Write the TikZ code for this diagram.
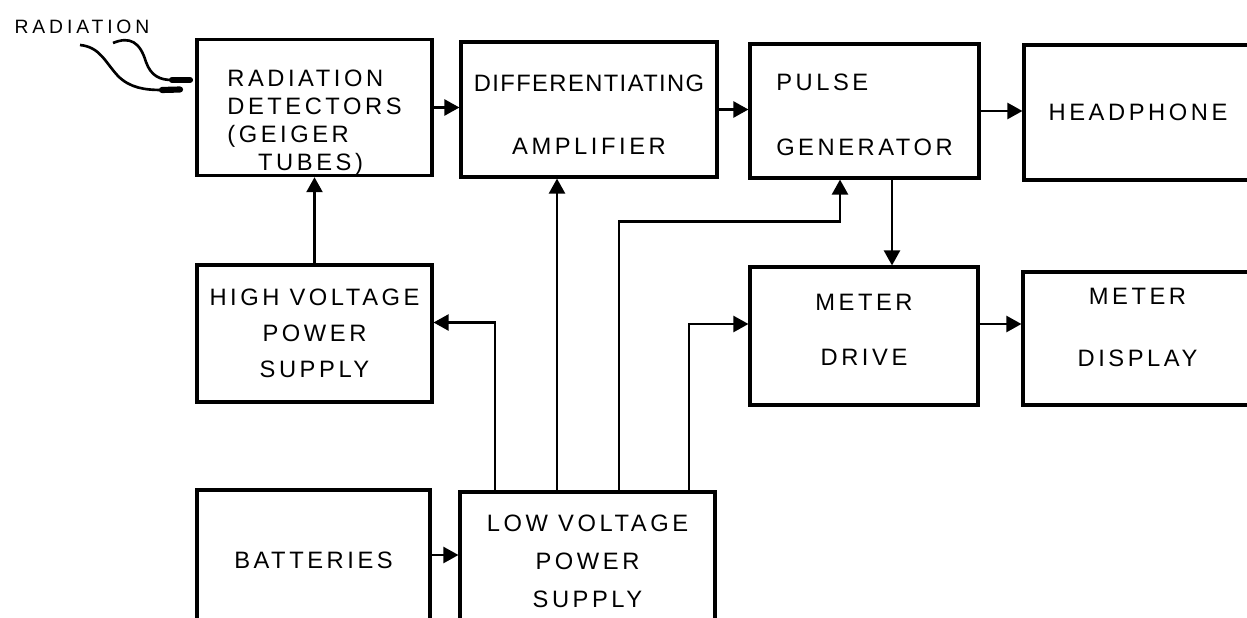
\documentclass[tikz,border=0pt]{standalone}
\usepackage{fontspec}
\setmainfont{Liberation Sans}[LetterSpace=15]
\usetikzlibrary{arrows.meta}

\begin{document}
\begin{tikzpicture}[x=0.02cm, y=-0.02cm,
    blk/.style={draw, line width=1.8pt, align=center, inner sep=0pt, font=\fontsize{13.5}{16}\selectfont},
    arrow/.style={-{Triangle[length=0.3cm, width=0.32cm]}, line width=1.3pt},
    probe/.style={line width=3.5pt, line cap=round}
]
    \useasboundingbox (0,0) rectangle (1247,618);
    \clip (0,0) rectangle (1247,618);
    % blocks, top row
    \node[blk, minimum width=4.7cm, minimum height=2.7cm, align=left] (det) at (314.5,107.5) {\rule{0pt}{0.94cm}RADIATION\\DETECTORS\\(GEIGER\\\hspace*{1.3em}TUBES)};
    \node[blk, minimum width=5.12cm, minimum height=2.7cm] (amp) at (589,109.5) {\rule{0pt}{0.54cm}{\addfontfeature{LetterSpace=6}DIFFERENTIATING}\\[0.68cm]AMPLIFIER};
    \node[blk, minimum width=4.58cm, minimum height=2.68cm, align=left] (pulse) at (864.5,111) {\rule{0pt}{0.5cm}PULSE\\[0.74cm]GENERATOR};
    \node[blk, minimum width=4.56cm, minimum height=2.7cm] (head) at (1138,112.5) {HEADPHONE};
    % middle row
    \node[blk, minimum width=4.7cm, minimum height=2.74cm] (hv) at (314.5,333.5) {HIGH VOLTAGE\\[0.16cm]POWER\\[0.16cm]SUPPLY};
    \node[blk, minimum width=4.56cm, minimum height=2.76cm] (drive) at (864,336) {METER\\[0.54cm]DRIVE\rule[-0.24cm]{0pt}{0.24cm}};
    \node[blk, minimum width=4.58cm, minimum height=2.66cm] (disp) at (1137.5,338.5) {METER\\[0.68cm]DISPLAY\rule[-0.44cm]{0pt}{0.44cm}};
    % bottom row
    \node[blk, minimum width=4.66cm, minimum height=2.8cm] (bat) at (313.5,560) {BATTERIES};
    \node[blk, minimum width=5.1cm, minimum height=2.76cm] (lv) at (587.5,561) {LOW VOLTAGE\\[0.2cm]POWER\\[0.2cm]SUPPLY};
    % radiation input
    \node[font=\fontsize{11}{13}\selectfont\addfontfeature{LetterSpace=20}, inner sep=0pt] (rad) at (82,27) {RADIATION};
    \draw[line width=1.5pt] (80,45) .. controls (100,47) and (105,62) .. (118,76) .. controls (130,88) and (145,90) .. (162,90);
    \draw[line width=1.5pt] (113,43) .. controls (130,36) and (140,42) .. (146,62) .. controls (151,76) and (160,80) .. (172,80);
    \draw[probe] (162,90) -- (180,89.5);
    \draw[probe] (172,80) -- (190,80);
    % signal path
    \draw[arrow] (det.east) -- (det.east -| amp.west);
    \draw[arrow] (amp.east) -- (amp.east -| pulse.west);
    \draw[arrow] (pulse.east) -- (pulse.east -| head.west);
    \draw[arrow] ([xshift=0.55cm]pulse.south) -- ([xshift=0.55cm]pulse.south |- drive.north);
    \draw[arrow] ([yshift=0.24cm]drive.east) -- ([yshift=0.24cm]drive.east -| disp.west);
    % supplies
    \draw[arrow] (hv.north) -- (hv.north |- det.south);
    \draw[arrow] ([yshift=0.1cm]bat.east) -- ([yshift=0.1cm]bat.east -| lv.west);
    \draw[arrow] ([xshift=-1.85cm]lv.north) |- ([yshift=0.22cm]hv.east);
    \draw[arrow] ([xshift=-0.61cm]lv.north) -- ([xshift=-0.61cm]lv.north |- amp.south);
    \draw[arrow] ([xshift=0.63cm]lv.north) |- ([xshift=-0.49cm, yshift=-0.84cm]pulse.south) -- ([xshift=-0.49cm]pulse.south);
    \draw[arrow] ([xshift=2.03cm]lv.north) |- ([yshift=0.24cm]drive.west);
\end{tikzpicture}
\end{document}
